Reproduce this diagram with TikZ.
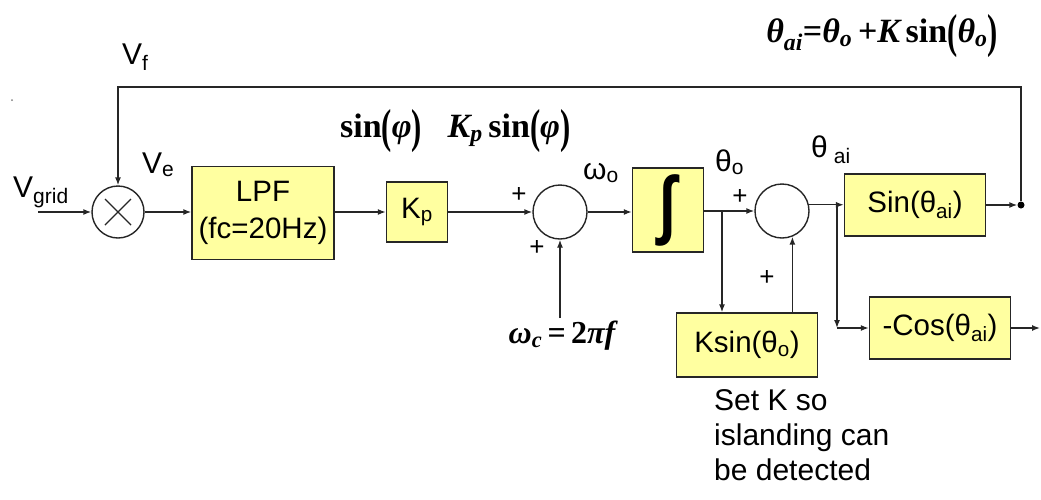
\documentclass[tikz,border=0pt]{standalone}
\usepackage{fontspec}
\setmainfont{Liberation Sans}
\newfontfamily\eqf{Liberation Serif}
\usetikzlibrary{arrows.meta,calc}
\definecolor{boxfill}{RGB}{255,255,160}
\newcommand\eqit[1]{{\itshape #1}}
\newcommand\eqsub[1]{\textsubscript{\itshape #1}}
\newcommand\eqbp[1]{\raisebox{-0.14em}{\scalebox{0.9}[1.4]{#1}}}
\begin{document}
\begin{tikzpicture}[x=1pt,y=-1pt,
  blk/.style={draw=black!85, fill=boxfill, line width=1.4pt, inner sep=0pt, font=\fontsize{29.5}{37}\selectfont},
  sumc/.style={circle, draw=black!85, line width=1.4pt, inner sep=0pt, minimum size=54pt},
  wire/.style={line width=1.4pt, draw=black!85},
  arr/.style={wire, -{Latex[length=8pt,width=6pt]}},
  lbl/.style={font=\fontsize{30}{35}\selectfont, inner sep=0pt},
  plus/.style={font=\fontsize{26}{26}\selectfont, inner sep=0pt},
  eq/.style={font=\eqf\bfseries\fontsize{34}{40}\selectfont, inner sep=0pt}]
\useasboundingbox (0,0) rectangle (1041,499);
\fill[white] (0,0) rectangle (1041,499);
\fill[gray] (12,100) circle (1);
% blocks
\node[sumc, minimum size=52pt] (mult) at (118,212) {};
\draw[wire] ($(mult.center)+(-13,-13)$) -- ($(mult.center)+(13,13)$);
\draw[wire] ($(mult.center)+(-13,13)$) -- ($(mult.center)+(13,-13)$);
\node[blk, minimum width=142pt, minimum height=93pt, align=center] (lpf) at (263,213) {LPF\\(fc=20Hz)};
\node[blk, minimum width=61pt, minimum height=60pt] (kp) at (417,212) {K\textsubscript{p}};
\node[sumc] (s1) at (560,212) {};
\node[blk, minimum width=71pt, minimum height=84pt] (intg) at (668,210) {\fontsize{54}{54}\selectfont\raisebox{0.05em}{\scalebox{1.1}[1.4]{\bfseries ∫}}};
\node[sumc] (s2) at (782,211) {};
\node[blk, minimum width=141pt, minimum height=64pt] (ksin) at (747,345) {Ksin(θ\textsubscript{o})};
\node[blk, minimum width=141pt, minimum height=62pt] (sinb) at (915,205) {Sin(θ\textsubscript{ai})};
\node[blk, minimum width=141pt, minimum height=62pt] (cosb) at (940,328) {-Cos(θ\textsubscript{ai})};
\node[circle, fill=black, inner sep=0pt, minimum size=7pt] (dot) at (1021,205) {};
% coordinates
\coordinate (vin) at (38,212);
\coordinate (fbtr) at (1021,87);
\coordinate (fbtl) at (118,87);
\coordinate (wc) at (560,318);
\coordinate (j1) at (722,211);
\coordinate (j2) at (837,205);
\coordinate (out) at (1040,328);
% wires
\draw[arr] (vin) -- (mult);
\draw[arr] (mult) -- (mult -| lpf.west);
\draw[arr] (lpf.east |- kp) -- (kp);
\draw[arr] (kp) -- (s1);
\draw[arr] (wc) -- (s1);
\draw[arr] (s1) -- (s1 -| intg.west);
\draw[arr] (intg.east |- s2) -- (s2);
\draw[arr] (j1) -- (j1 |- ksin.north);
\draw[arr] (s2.-68 |- ksin.north) -- (s2.-68);
\draw[arr] (s2.13) -- (s2.13 -| sinb.west);
\draw[arr] (j2) -- (j2 |- cosb.west);
\draw[arr] (j2 |- cosb.west) -- (cosb.west);
\draw[arr] (cosb) -- (out);
\draw[arr] (sinb) -- (dot);
\draw[arr] (dot) -- (fbtr) -- (fbtl) -- (mult);
% labels
\node[lbl, anchor=base west] (lvgrid) at (13,197) {V\textsubscript{grid}};
\node[lbl, anchor=base west] (lvf) at (122,64) {V\textsubscript{f}};
\node[lbl, anchor=base west] (lve) at (142,173) {V\textsubscript{e}};
\node[lbl, anchor=base west] (lwo) at (583,179) {ω\textsubscript{o}};
\node[lbl, anchor=base west] (lto) at (715,171) {θ\textsubscript{o}};
\node[lbl, anchor=base west] (ltai) at (811,157) {θ\hspace{6pt}\textsubscript{ai}};
\node[plus] (p1) at (519,195) {+};
\node[plus] (p2) at (537,248) {+};
\node[plus] (p3) at (740,197) {+};
\node[plus] (p4) at (767,278) {+};
\node[eq] (esin) at (381,131) {sin\eqbp{(}\eqit{φ}\eqbp{)}};
\node[eq] (ekp) at (509,131) {\eqit{K}\eqsub{p}\,sin\eqbp{(}\eqit{φ}\eqbp{)}};
\node[eq, font=\eqf\bfseries\fontsize{32}{40}\selectfont] (ewc) at (562,336) {\eqit{ω}\eqsub{c}\,=\,2\eqit{πf}};
\node[eq, font=\eqf\bfseries\fontsize{34}{40}\selectfont] (etop) at (882,36) {\eqit{θ}\eqsub{ai}=\eqit{θ}\eqsub{o}\,+\eqit{K}\,sin\eqbp{(}\eqit{θ}\eqsub{o}\eqbp{)}};
\node[lbl, anchor=north west, align=left, font=\fontsize{30}{35}\selectfont] (note) at (714,389) {Set K so\\islanding can\\be detected};
\end{tikzpicture}
\end{document}
